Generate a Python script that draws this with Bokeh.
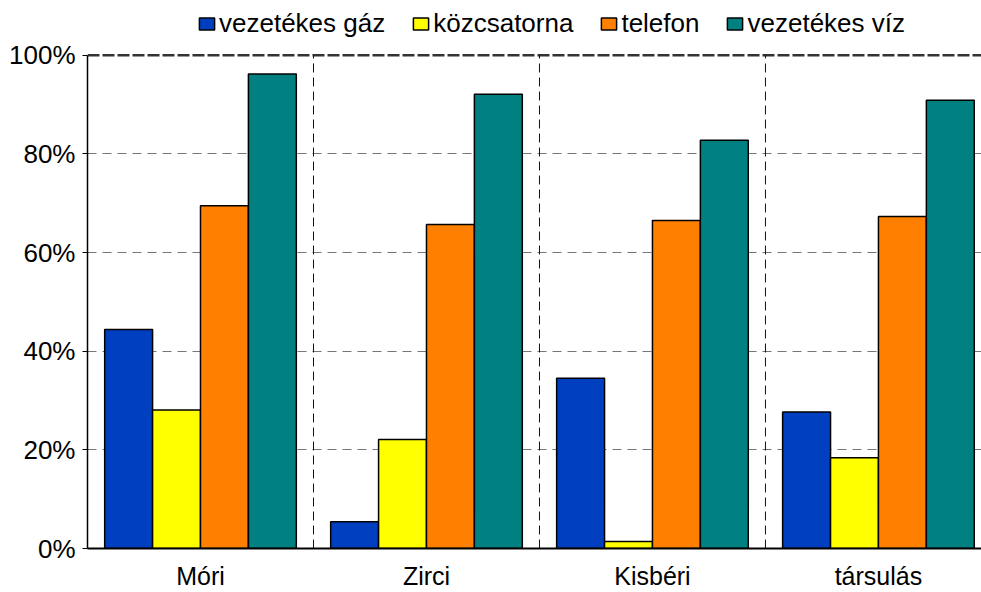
from bokeh.plotting import figure
from bokeh.models import (ColumnDataSource, FixedTicker, PrintfTickFormatter, Legend,
                          LegendItem, Range1d, Span)
from bokeh.embed import file_html
from bokeh.resources import INLINE

categories = ["Móri", "Zirci", "Kisbéri", "társulás"]
series = ["vezetékes gáz", "közcsatorna", "telefon", "vezetékes víz"]
gaz = [44.4, 5.4, 34.5, 27.7]
csatorna = [28.1, 22.1, 1.4, 18.4]
telefon = [69.5, 65.7, 66.5, 67.3]
viz = [96.2, 92.1, 82.8, 90.9]
colors = ["#0040C0", "#FFFF00", "#FF8000", "#008080"]
y_ticks = [0, 20, 40, 60, 80, 100]

FONT = "Liberation Sans"
n = len(categories)
bar_w = 0.212
y_lo, y_hi = y_ticks[0], y_ticks[-1]
# frame reaches the top of the figure so the legend can sit above the 100% line
y_view_top = y_hi * 550 / 495

p = figure(width=981, height=592, output_backend="svg", toolbar_location=None,
           x_range=Range1d(0, 3.956), y_range=Range1d(y_lo, y_view_top),
           min_border_left=87, min_border_right=0, min_border_top=0, min_border_bottom=42)
p.outline_line_color = None
p.background_fill_color = "white"

# vertical category separators (only up to 100%)
seps = list(range(1, n))
p.segment(x0=seps, x1=seps, y0=[y_lo] * len(seps), y1=[y_hi] * len(seps),
          line_color="#111111", line_dash="9 5", line_width=1)

items = []
for j, (name, vals, col) in enumerate(zip(series, [gaz, csatorna, telefon, viz], colors)):
    xs = [i + 0.5 + (j - 1.5) * bar_w for i in range(n)]
    src = ColumnDataSource(dict(x=xs, top=vals))
    r = p.vbar(x="x", top="top", bottom=0, width=bar_w, source=src,
               fill_color=col, line_color="black", line_width=1.5)
    items.append(LegendItem(label=name, renderers=[r]))

# grids
p.xgrid.visible = False
p.ygrid.ticker = FixedTicker(ticks=y_ticks[1:-1])
p.ygrid.grid_line_color = "#777777"
p.ygrid.grid_line_dash = "9 6"
p.ygrid.grid_line_width = 1.2
p.add_layout(Span(location=y_hi, dimension="width", line_color="#333333",
                  line_dash="12 3", line_width=2.5, level="underlay"))

# x axis
p.xaxis.ticker = FixedTicker(ticks=[i + 0.5 for i in range(n)])
p.xaxis.major_label_overrides = {i + 0.5: c for i, c in enumerate(categories)}
p.xaxis.major_tick_line_color = None
p.xaxis.minor_tick_line_color = None
p.xaxis.axis_line_color = "black"
p.xaxis.axis_line_width = 2
p.xaxis.major_label_text_font = FONT
p.xaxis.major_label_text_font_size = "25px"
p.xaxis.major_label_text_color = "black"
p.xaxis.major_label_standoff = 7

# y axis
p.yaxis.ticker = FixedTicker(ticks=y_ticks)
p.yaxis.bounds = (y_lo, y_hi)
p.yaxis.formatter = PrintfTickFormatter(format="%d%%")
p.yaxis.major_tick_out = 5
p.yaxis.major_tick_in = 0
p.yaxis.major_tick_line_color = "black"
p.yaxis.minor_tick_line_color = None
p.yaxis.axis_line_color = "black"
p.yaxis.axis_line_width = 1.5
p.yaxis.major_label_text_font = FONT
p.yaxis.major_label_text_font_size = "26px"
p.yaxis.major_label_text_color = "black"
p.yaxis.major_label_standoff = 7

legend = Legend(items=items, orientation="horizontal", location=(110, 509),
                glyph_width=19, glyph_height=15, label_standoff=3, spacing=26,
                padding=0, margin=0, border_line_color=None, background_fill_alpha=0,
                label_text_font=FONT, label_text_font_size="26px", label_text_color="black")
p.add_layout(legend)

open("out.html", "w").write(file_html(p, INLINE))
